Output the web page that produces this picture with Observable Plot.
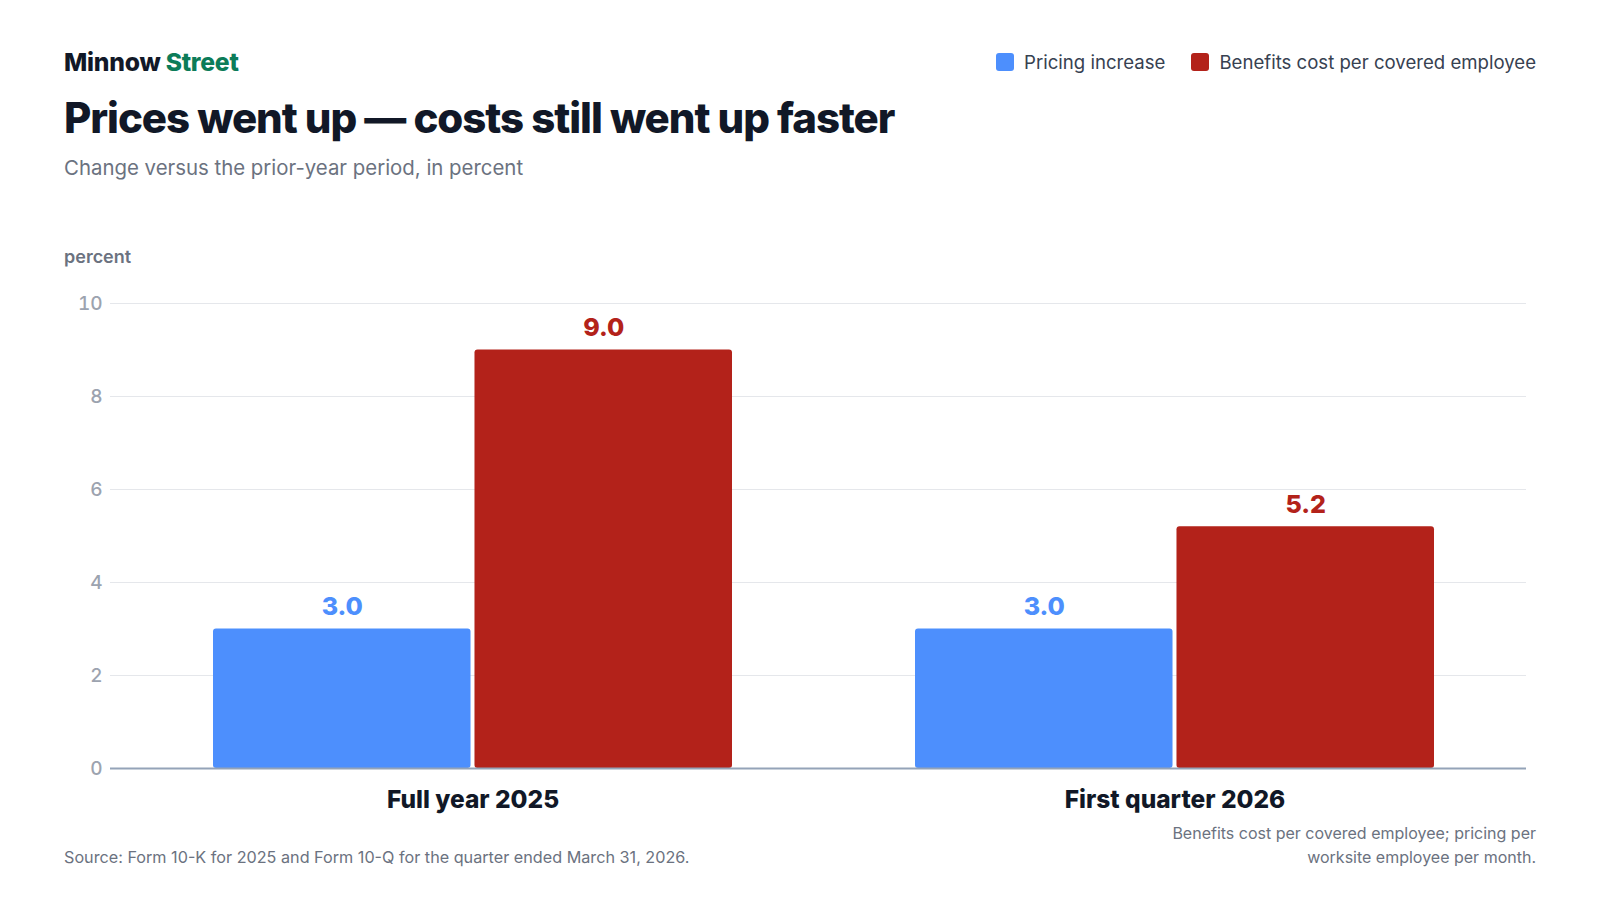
<!DOCTYPE html>
<html>
<head>
<meta charset="utf-8">
<script src="https://cdn.jsdelivr.net/npm/d3@7"></script>
<script src="https://cdn.jsdelivr.net/npm/@observablehq/plot@0.6"></script>
<style>
  html, body { margin: 0; padding: 0; background: #ffffff; }
  body { width: 1600px; height: 900px; position: relative; overflow: hidden; font-family: Inter, "Noto Sans", sans-serif; }
  .abs { position: absolute; white-space: nowrap; }
  #brand { left: 64px; top: 46px; font-size: 24.7px; font-weight: 800; color: #111827; letter-spacing: -0.01em; line-height: 32px; }
  #brand span { color: #0c7c59; }
  #title { left: 64px; top: 92px; font-size: 42px; font-weight: 800; color: #111827; letter-spacing: -0.025em; line-height: 52px; }
  #subtitle { left: 64px; top: 155px; font-size: 20.4px; font-weight: 400; color: #6b7280; line-height: 26px; }
  #legend { right: 64px; top: 49px; display: flex; gap: 26px; font-size: 18.6px; color: #374151; line-height: 26px; }
  .item { display: flex; align-items: center; gap: 10px; }
  .sw { width: 18px; height: 18px; border-radius: 3px; display: inline-block; }
  #ylabel { left: 64px; top: 245px; font-size: 18px; font-weight: 600; color: #6b7280; line-height: 24px; }
  #chart { position: absolute; left: 0; top: 280px; }
  #source { left: 64px; top: 845px; font-size: 16.2px; color: #6b7280; line-height: 24px; }
  #note { right: 64px; top: 821px; font-size: 16px; color: #6b7280; line-height: 24px; text-align: right; }
</style>
</head>
<body>
<div id="brand" class="abs">Minnow <span>Street</span></div>
<div id="title" class="abs">Prices went up — costs still went up faster</div>
<div id="subtitle" class="abs">Change versus the prior-year period, in percent</div>
<div id="legend" class="abs"></div>
<div id="ylabel" class="abs">percent</div>
<div id="chart"></div>
<div id="source" class="abs">Source: Form 10-K for 2025 and Form 10-Q for the quarter ended March 31, 2026.</div>
<div id="note" class="abs">Benefits cost per covered employee; pricing per<br>worksite employee per month.</div>
<script>
// ---- data ----
const periods = ["Full year 2025", "First quarter 2026"];
const series = ["Pricing increase", "Benefits cost per covered employee"];
const pricingValues = [3.0, 3.0];
const benefitsValues = [9.0, 5.2];
const yTicks = [0, 2, 4, 6, 8, 10];
const colors = ["#4d8ffd", "#b3221a"];

const pricing = periods.map((p, i) => ({period: p, series: series[0], value: pricingValues[i]}));
const benefits = periods.map((p, i) => ({period: p, series: series[1], value: benefitsValues[i]}));

// legend
const legend = document.getElementById("legend");
series.forEach((s, i) => {
  const it = document.createElement("div");
  it.className = "item";
  it.innerHTML = `<span class="sw" style="background:${colors[i]}"></span><span>${s}</span>`;
  legend.appendChild(it);
});

// layout
const W = 1600, H = 538, mL = 110, mR = 74, mT = 23, mB = 50;
const pIn = 0.26, pOut = 0.138;
const step = (W - mL - mR) / (periods.length - pIn + 2 * pOut);
const bw = step * (1 - pIn);
const gap = 1.6;
const half = bw / 2 + gap;
const off = bw / 4 + gap / 2;

const chart = Plot.plot({
  width: W,
  height: H,
  marginLeft: mL,
  marginRight: mR,
  marginTop: mT,
  marginBottom: mB,
  style: {fontFamily: "Inter, 'Noto Sans', sans-serif", background: "#ffffff"},
  x: {type: "band", domain: periods, paddingInner: pIn, paddingOuter: pOut, align: 0.53, label: null},
  y: {domain: [0, 10], ticks: yTicks, label: null},
  marks: [
    Plot.gridY(yTicks.filter(d => d > 0), {stroke: "#e5e7eb", strokeOpacity: 1, strokeWidth: 1}),
    Plot.axisY(yTicks, {tickSize: 0, tickPadding: 8, fontSize: 19, fontWeight: 500, fill: "#9ca3af", label: null}),
    Plot.axisX({tickSize: 0, tickPadding: 22, fontSize: 24.5, fontWeight: 800, fill: "#111827", label: null}),
    Plot.barY(pricing, {x: "period", y: "value", fill: colors[0], insetRight: half, rx: 3}),
    Plot.barY(benefits, {x: "period", y: "value", fill: colors[1], insetLeft: half, rx: 3}),
    Plot.ruleY([0], {stroke: "#94a3b8", strokeWidth: 2}),
    Plot.text(pricing, {x: "period", y: "value", text: d => d.value.toFixed(1), dx: -off, dy: -14, lineAnchor: "bottom", fill: colors[0], fontSize: 25, fontWeight: 800}),
    Plot.text(benefits, {x: "period", y: "value", text: d => d.value.toFixed(1), dx: off, dy: -14, lineAnchor: "bottom", fill: colors[1], fontSize: 25, fontWeight: 800})
  ]
});
document.getElementById("chart").appendChild(chart);
</script>
</body>
</html>
